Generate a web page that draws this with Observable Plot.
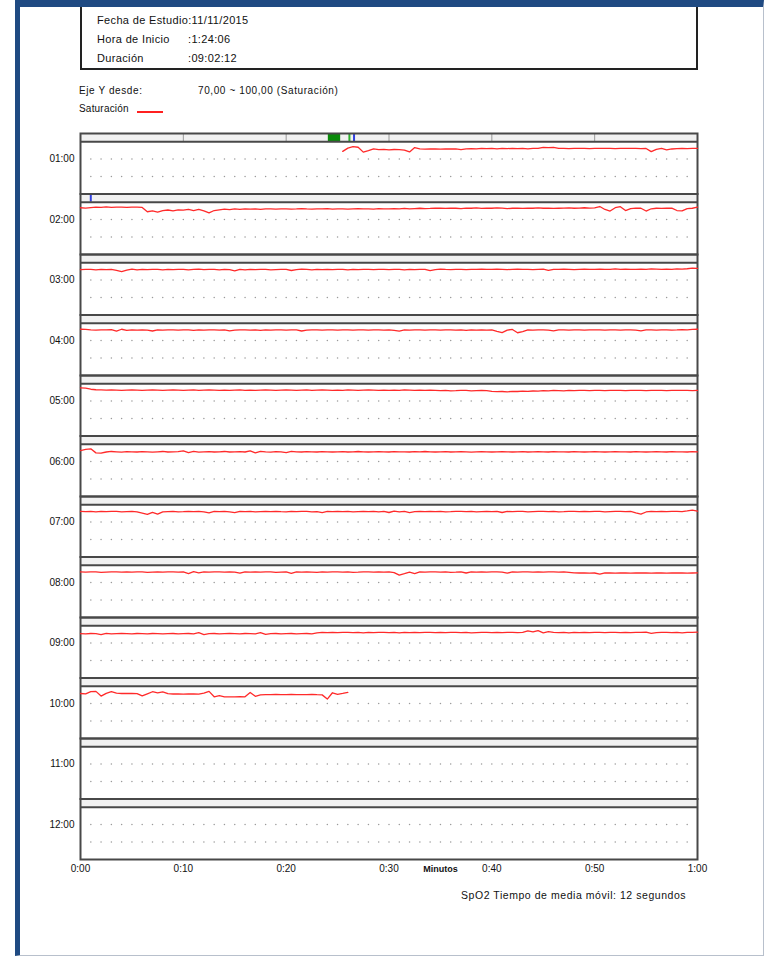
<!DOCTYPE html>
<html><head><meta charset="utf-8">
<script src="https://cdn.jsdelivr.net/npm/d3@7"></script>
<script src="https://cdn.jsdelivr.net/npm/@observablehq/plot@0.6"></script>
<style>
html,body{margin:0;padding:0;background:#fff;}
body{width:764px;height:956px;position:relative;overflow:hidden;font-family:"Liberation Sans",Arial,sans-serif;color:#111;}
#page{position:absolute;left:15px;top:0;width:749px;height:956px;border-left:5px solid #1f4a82;border-top:7px solid #1f4a82;border-right:1px solid #b8c0cc;border-bottom:1px solid #b8c0cc;box-sizing:border-box;z-index:3;pointer-events:none;}
#info{position:absolute;left:80px;top:7px;width:618px;height:63px;border:2px solid #222;border-top:none;box-sizing:border-box;z-index:2;}
.t{position:absolute;white-space:pre;line-height:13px;}
.h{font-size:11px;letter-spacing:0.35px;}
.s{font-size:10px;letter-spacing:0.6px;}
#legline{position:absolute;left:137px;top:111px;width:26px;height:1.6px;background:#ff2020;}
#chart{position:absolute;left:0;top:120px;z-index:1;}
</style></head>
<body>
<div id="page"></div>
<div id="info"></div>
<div class="t h" style="left:97px;top:14px">Fecha de Estudio:11/11/2015</div>
<div class="t h" style="left:97px;top:33px">Hora de Inicio</div>
<div class="t h" style="left:188px;top:33px">:1:24:06</div>
<div class="t h" style="left:97px;top:52px">Duración</div>
<div class="t h" style="left:188px;top:52px">:09:02:12</div>
<div class="t s" style="left:79px;top:84px">Eje Y desde:</div>
<div class="t s" style="left:198px;top:84px">70,00 ~ 100,00 (Saturación)</div>
<div class="t s" style="left:79px;top:102px;letter-spacing:0.2px">Saturación</div>
<div id="legline"></div>
<div id="chart"></div>
<div class="t s" id="caption" style="left:461px;top:889px;font-size:10.5px;letter-spacing:0.55px">SpO2 Tiempo de media móvil: 12 segundos</div>
<script>
// ---- data ----
const hours = ["01:00","02:00","03:00","04:00","05:00","06:00","07:00","08:00","09:00","10:00","11:00","12:00"];
const xTicks = [0,10,20,30,40,50,60];
const xTickLabels = ["0:00","0:10","0:20","0:30","0:40","0:50","1:00"];
const STEP = 0.5; // minutes between readings

const spo2_01 = [ // starts at minute 25.5
94.4,96.3,97.1,96.8,94.0,94.8,95.8,95.4,95.6,95.3,
95.5,95.4,95.2,94.1,96.6,95.9,95.7,95.8,95.9,95.7,
95.8,95.9,95.8,95.4,95.9,96.0,95.9,96.1,96.0,96.1,
95.9,96.1,96.0,96.2,96.0,96.1,95.9,96.2,96.1,96.7,
96.6,96.7,96.2,96.1,96.0,96.1,96.2,96.1,96.0,96.1,
96.1,96.2,96.1,96.0,96.1,96.2,96.1,96.1,96.0,96.1,
94.3,95.6,96.1,95.3,95.8,96.0,96.1,96.0,96.1,96.2];
const spo2_02 = [
96.8,96.6,96.9,97.1,97.0,97.3,97.0,97.2,97.1,97.0,
97.1,97.1,97.0,94.5,95.0,94.3,95.2,95.5,95.0,95.6,
95.4,95.8,95.1,95.9,95.0,93.9,95.2,95.6,96.0,95.7,
96.1,95.9,96.2,96.0,96.1,95.8,96.1,96.2,96.0,96.1,
96.2,96.0,96.1,96.3,96.1,96.0,96.2,96.1,96.3,96.0,
96.2,96.1,96.0,96.2,96.3,96.1,96.2,96.0,96.3,96.2,
96.1,96.3,96.2,96.4,96.1,96.3,96.5,96.3,96.4,96.6,
96.5,96.4,96.6,96.5,96.3,96.6,96.5,96.7,96.4,96.6,
96.5,96.7,96.6,96.3,96.5,96.6,96.4,96.6,96.5,96.7,
96.5,96.6,96.4,96.5,96.6,96.7,96.5,96.6,96.8,96.6,
96.7,97.5,95.8,94.9,96.8,97.4,95.2,96.3,96.6,96.5,
94.9,96.2,96.5,96.4,96.5,96.6,95.2,95.0,96.3,96.5,
97.1];
const spo2_03 = [
96.0,96.2,96.1,95.9,96.2,96.0,96.1,95.6,94.9,95.7,
96.3,95.8,96.1,96.0,96.2,96.1,95.9,96.2,96.0,96.1,
96.2,95.9,96.1,96.3,96.0,96.2,96.1,95.9,96.2,96.0,
95.3,96.2,95.8,96.1,96.0,96.2,96.1,95.9,96.0,96.1,
96.2,95.5,96.0,96.3,96.1,95.9,96.1,96.0,96.2,96.0,
96.1,96.2,95.9,96.1,96.0,96.2,96.1,96.0,96.2,96.1,
96.0,96.1,96.2,95.9,96.1,96.0,96.2,96.1,95.4,96.0,
96.3,96.1,96.0,96.2,96.1,96.0,96.2,96.1,96.3,96.2,
96.1,96.3,96.2,96.0,96.2,96.3,96.1,96.2,96.0,96.2,
96.3,95.6,96.2,96.1,96.3,96.2,96.0,96.2,96.3,96.1,
96.2,96.3,96.1,96.2,96.4,96.2,96.3,96.1,96.2,96.3,
96.2,96.4,96.3,96.1,96.3,96.2,96.4,96.3,96.5,96.9,
96.7];
const spo2_04 = [
96.5,96.4,96.1,96.0,96.2,96.1,96.3,95.4,96.5,95.8,
96.1,96.0,96.2,96.0,95.5,96.1,96.0,96.2,96.1,96.0,
96.2,96.1,95.9,96.1,96.0,96.2,96.1,96.0,96.2,95.6,
96.0,96.1,96.2,96.0,96.1,95.9,96.1,96.0,96.2,96.1,
96.0,96.2,96.1,95.5,96.0,96.1,96.2,96.0,96.1,96.2,
96.0,96.1,96.2,96.0,96.1,96.2,96.0,96.1,96.2,96.0,
96.1,95.8,95.4,96.2,96.0,96.1,96.2,96.0,96.1,96.2,
96.0,96.1,96.2,96.0,96.1,95.9,96.1,96.0,96.2,96.0,
96.1,95.3,94.6,96.0,96.4,94.5,95.2,96.1,96.0,96.1,
96.2,96.0,95.6,96.1,96.2,96.0,96.1,96.2,96.0,96.1,
96.2,96.1,96.0,96.2,96.1,96.0,96.2,96.1,96.0,95.6,
96.1,96.2,96.0,96.1,96.2,96.0,96.1,96.3,96.2,96.4,
96.5];
const spo2_05 = [
97.6,97.4,96.8,96.5,96.4,96.3,96.4,96.3,96.2,96.3,
96.4,96.3,96.2,96.3,96.4,96.3,96.2,96.3,96.4,96.3,
96.2,96.3,96.4,96.2,96.3,96.4,96.3,96.2,96.3,96.1,
96.3,96.4,96.2,96.3,96.2,96.3,96.4,96.3,96.2,96.3,
96.4,96.3,96.2,96.3,96.4,96.2,96.3,96.4,96.3,96.2,
96.3,96.2,96.4,96.3,96.2,96.3,96.4,96.3,96.2,96.3,
96.1,96.3,96.2,96.4,96.3,96.2,96.3,96.1,96.3,96.2,
96.0,96.1,95.9,96.0,96.2,96.1,95.9,96.0,96.1,96.0,
95.6,95.4,95.5,95.3,95.6,95.5,95.7,95.6,95.8,95.7,
96.0,95.9,96.1,96.0,95.9,96.1,96.0,96.2,96.1,96.0,
96.1,96.2,96.0,96.1,96.2,96.1,96.0,96.2,96.1,96.2,
96.0,96.1,96.2,96.1,96.0,96.2,96.1,96.2,96.1,96.0,
96.1];
const spo2_06 = [
96.3,97.0,97.3,95.0,94.8,95.5,95.8,95.6,95.4,95.7,
95.6,95.5,95.7,95.6,95.4,95.6,95.8,95.5,95.6,95.7,
96.2,95.2,95.9,95.4,95.6,95.7,95.5,95.6,95.8,95.5,
95.6,95.7,95.5,96.1,95.0,95.9,95.6,95.4,95.7,95.6,
95.2,95.9,95.6,95.5,95.7,95.6,95.5,95.7,95.6,95.5,
95.6,95.7,95.5,95.6,95.8,95.6,95.5,95.6,95.7,95.6,
95.5,95.7,95.6,95.6,95.5,95.7,95.6,95.8,95.6,95.5,
95.6,95.7,95.5,95.6,95.7,95.6,95.4,95.6,95.7,95.6,
95.5,95.6,95.7,95.6,95.5,95.6,95.7,95.5,95.6,95.7,
95.6,95.5,95.7,95.6,95.6,95.5,95.7,95.6,95.5,95.6,
95.7,95.6,95.5,95.6,95.7,95.6,95.6,95.5,95.7,95.6,
95.5,95.6,95.7,95.6,95.5,95.7,95.6,95.6,95.5,95.7,
95.6];
const spo2_07 = [
96.2,96.0,96.1,95.9,96.1,96.0,96.2,96.1,95.9,96.0,
96.1,95.8,95.2,94.4,95.6,94.6,95.9,96.0,96.1,95.9,
96.0,96.2,96.0,96.1,95.9,95.3,96.1,96.0,96.2,95.8,
95.4,96.2,96.0,96.1,95.9,96.0,96.1,96.0,96.2,96.0,
95.9,96.1,96.0,96.2,96.1,95.9,96.0,95.4,96.1,96.0,
96.1,96.0,96.2,95.9,96.0,96.1,96.0,96.2,95.9,96.1,
95.5,96.3,95.8,96.2,95.4,96.0,96.1,96.0,96.2,96.0,
96.1,95.9,96.0,96.2,96.1,96.0,96.1,95.9,96.0,96.1,
96.0,96.2,95.5,96.1,96.0,96.2,96.1,95.9,96.0,96.1,
96.2,96.0,96.1,95.9,96.0,96.2,96.1,96.0,96.1,96.0,
96.2,96.1,95.9,96.0,96.1,96.2,96.0,96.1,95.3,94.6,
95.8,96.2,96.0,96.1,96.0,96.2,96.1,96.0,96.4,96.9,
96.3];
const spo2_08 = [
96.1,96.0,96.2,96.1,95.9,96.0,96.1,96.2,96.0,96.1,
96.0,96.2,96.1,95.9,96.0,96.1,96.0,96.2,96.1,96.0,
96.1,95.2,96.3,95.6,96.1,96.0,96.2,96.1,96.0,96.1,
96.0,95.4,96.2,96.0,96.1,96.0,96.2,96.1,95.9,96.0,
96.1,95.3,96.2,96.0,96.1,96.0,95.9,96.1,96.0,96.2,
96.1,96.0,96.1,95.9,96.0,96.2,96.1,96.0,96.1,96.0,
96.2,95.7,94.3,95.1,96.0,95.2,96.1,96.0,96.2,96.1,
96.0,96.1,95.9,96.0,96.2,95.5,96.1,96.0,96.1,96.0,
96.2,96.1,96.0,95.4,96.1,96.0,96.2,96.1,96.0,96.1,
96.0,96.2,96.1,96.0,96.1,95.9,95.6,95.5,95.6,95.4,
95.5,94.8,95.6,95.5,95.4,95.6,95.5,95.4,95.5,95.6,
95.5,95.4,95.6,95.5,95.4,95.5,95.6,95.5,95.4,95.5,
95.6];
const spo2_09 = [
95.4,95.3,95.5,95.4,94.9,95.6,95.3,95.4,95.5,95.4,
95.3,95.5,95.4,95.3,95.5,95.4,95.3,95.4,95.5,95.3,
95.4,95.5,95.3,96.0,94.9,95.4,95.5,95.3,95.4,95.5,
95.4,95.3,95.5,95.4,95.3,96.0,95.0,95.4,95.5,95.3,
95.4,95.5,95.3,95.4,95.5,95.3,95.8,96.1,96.0,96.2,
96.0,96.1,96.2,96.0,96.1,95.9,96.1,96.0,96.2,96.1,
96.0,96.1,95.9,96.2,96.0,96.1,96.0,96.2,96.1,96.0,
96.1,96.0,96.2,96.1,96.0,96.1,95.9,96.0,96.1,96.2,
96.0,96.1,96.0,96.2,96.1,96.0,96.1,97.0,96.4,97.1,
95.9,96.6,96.2,96.0,96.1,95.8,96.2,96.0,96.1,96.0,
96.2,96.1,96.0,96.1,96.2,96.0,96.1,96.0,96.2,96.1,
96.3,95.6,96.0,96.1,96.2,96.0,96.1,95.9,96.1,96.2,
96.3];
const spo2_10 = [ // recording ends at ~10:26
95.8,95.6,96.9,97.0,94.3,95.9,96.8,96.0,95.8,95.9,
95.8,95.7,94.4,95.6,96.8,96.1,96.7,95.7,95.5,95.6,
95.4,95.6,95.5,95.4,96.0,97.0,93.9,94.6,93.8,93.9,
93.8,94.0,93.9,96.4,94.2,95.0,95.2,95.1,95.3,95.2,
95.1,95.3,95.2,95.1,95.2,95.3,95.1,95.0,92.6,96.2,
95.3,95.8,96.4];

const series = [
  {hour:"01:00", start:25.5, values:spo2_01},
  {hour:"02:00", start:0, values:spo2_02},
  {hour:"03:00", start:0, values:spo2_03},
  {hour:"04:00", start:0, values:spo2_04},
  {hour:"05:00", start:0, values:spo2_05},
  {hour:"06:00", start:0, values:spo2_06},
  {hour:"07:00", start:0, values:spo2_07},
  {hour:"08:00", start:0, values:spo2_08},
  {hour:"09:00", start:0, values:spo2_09},
  {hour:"10:00", start:0, values:spo2_10}
];

// event markers in the strip above each row
const eventBlocks = [{hour:"01:00", start:24.1, end:25.3}];
const eventMarks = [
  {hour:"01:00", minute:26.15, color:"#2bb02b"},
  {hour:"01:00", minute:26.6, color:"#3040e0"},
  {hour:"02:00", minute:1.0, color:"#3040e0"}
];
const stripTicks = [{hour:"01:00", minute:10},{hour:"01:00", minute:20},{hour:"01:00", minute:30},{hour:"01:00", minute:40},{hour:"01:00", minute:50}];
const gridMinutes = [1,2,3,4,5,6,7,8,9,10,11,12,13,14,15,16,17,18,19,20,21,22,23,24,25,26,27,28,29,30,31,32,33,34,35,36,37,38,39,40,41,42,43,44,45,46,47,48,49,50,51,52,53,54,55,56,57,58,59];
const gridLevels = [80, 90];
const xAxisTitle = [{hour:"12:00", minute:35, text:"Minutos"}];

const Y_MIN = 70, SAT_MAX = 100, Y_TOP = 104.67;

// ---- build tables ----
const readings = series.flatMap(s => s.values.map((v, i) => ({hour: s.hour, minute: s.start + i * STEP, spo2: v})));
const gridPoints = gridLevels.flatMap(l => gridMinutes.map(m => ({minute: m, level: l})));

const chart = Plot.plot({
  width: 764,
  height: 769,
  marginLeft: 80,
  marginRight: 67,
  marginTop: 13,
  marginBottom: 30,
  style: {fontFamily: "Liberation Sans, Arial, sans-serif", fontSize: "10px", background: "transparent", color: "#111"},
  x: {domain: [xTicks[0], xTicks[xTicks.length - 1]], axis: null},
  y: {domain: [Y_MIN, Y_TOP], axis: null},
  fy: {domain: hours, padding: 0, round: false, axis: null},
  facet: {marginTop: 0, marginBottom: 0, marginLeft: 0, marginRight: 0},
  marks: [
    Plot.rect([0], {y1: SAT_MAX, y2: Y_TOP, fill: "#f1f1f1"}),
    Plot.dot(gridPoints, {x: "minute", y: "level", r: 0.75, fill: "#9a9a9a", stroke: null}),
    Plot.rect(eventBlocks, {x1: "start", x2: "end", y1: SAT_MAX, y2: Y_TOP, fy: "hour", fill: "#0a8a0a"}),
    Plot.ruleX(stripTicks, {x: "minute", y1: SAT_MAX, y2: Y_TOP, fy: "hour", stroke: "#999", strokeWidth: 1}),
    Plot.ruleX(eventMarks, {x: "minute", y1: SAT_MAX, y2: Y_TOP, fy: "hour", stroke: "color", strokeWidth: 2}),
    Plot.ruleY([SAT_MAX], {stroke: "#484848", strokeWidth: 2}),
    Plot.frame({stroke: "#484848", strokeWidth: 2}),
    Plot.line(readings, {x: "minute", y: "spo2", fy: "hour", z: "hour", stroke: "#ff2a2a", strokeWidth: 1.3}),
    Plot.text(hours, {fy: d => d, frameAnchor: "left", y: 90, text: d => d, textAnchor: "end", dx: -6, fontSize: 10}),
    Plot.axisX(xTicks, {tickFormat: d => xTickLabels[xTicks.indexOf(d)], tickSize: 0, tickPadding: 5, fontSize: 10, label: null}),
    Plot.text(xAxisTitle, {x: "minute", fy: "hour", frameAnchor: "bottom", text: "text", dy: 12, fontSize: 9, fontWeight: "bold"})
  ]
});
document.getElementById("chart").appendChild(chart);
</script>
</body></html>
